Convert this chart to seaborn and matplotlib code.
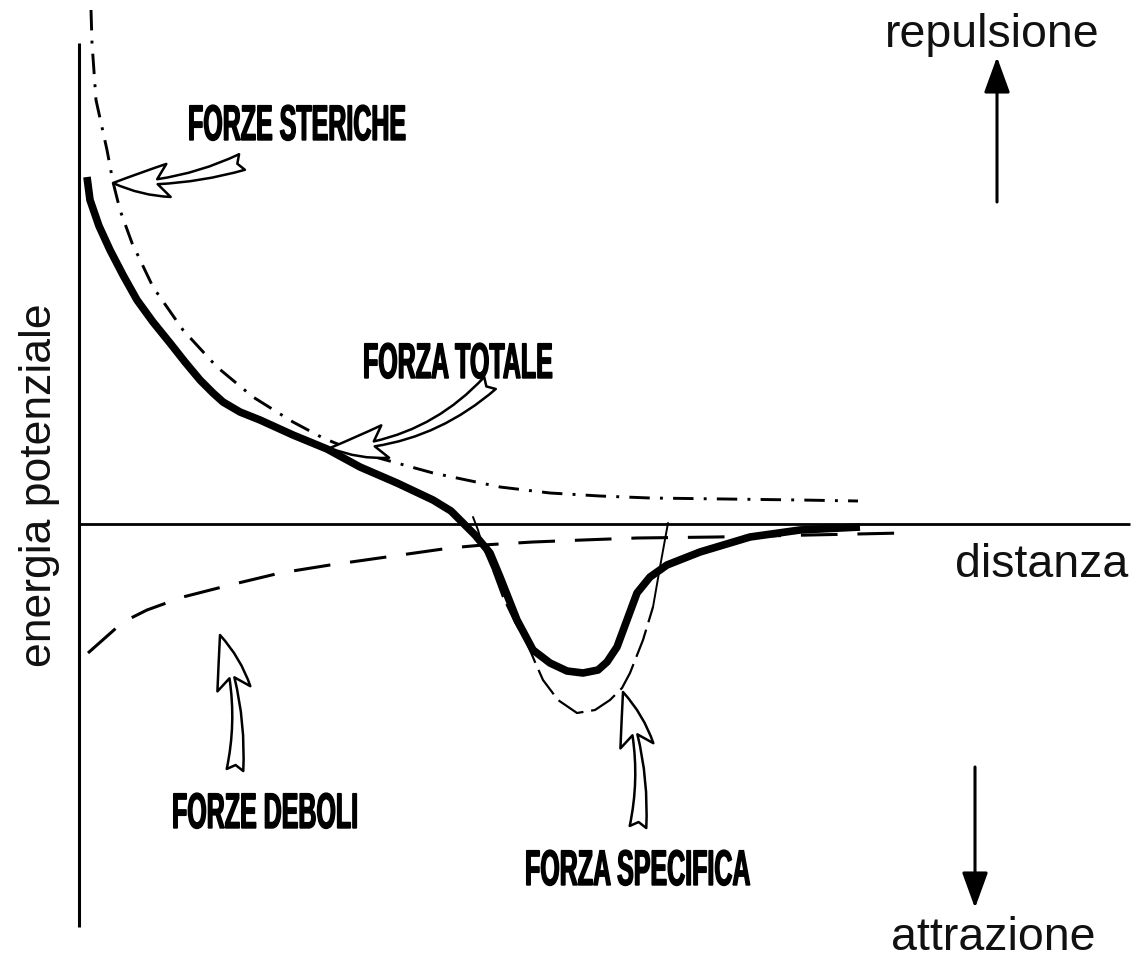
import numpy as np
import matplotlib
matplotlib.use('Agg')
import matplotlib.pyplot as plt
import matplotlib.patheffects as pe
from matplotlib.transforms import Affine2D
import seaborn as sns

# schematic curves: distance (arbitrary units) vs potential energy
steric_dist = [12, 13, 17, 28, 34, 41, 53, 74, 104, 138, 174, 214, 244, 278, 354, 421, 471, 521, 571, 721, 779]
steric_energy = [514, 481, 424, 374, 342, 314, 281, 237, 194, 157, 127, 102, 86, 72, 51, 37, 31, 28, 26, 24, 23]

total_dist = [8, 11, 20, 31, 44, 58, 74, 91, 106, 121, 134, 144, 161, 181, 214, 248, 281, 318, 354, 372, 384,
              396, 411, 421, 438, 454, 471, 488, 504, 519, 528, 538, 548, 558, 571, 588, 621, 671, 721, 781]
total_energy = [347, 324, 298, 274, 249, 224, 202, 181, 162, 144, 131, 122, 112, 104, 89, 75, 57, 41, 24, 13, 1,
                -11, -29, -53, -96, -126, -139, -147, -149, -146, -138, -123, -96, -69, -53, -41, -28, -13, -6, -3]

weak_dist = [9, 44, 68, 104, 151, 201, 251, 371, 404, 454, 504, 558, 638, 824]
weak_energy = [-129, -98, -86, -73, -61, -49, -41, -24, -21, -18, -16, -14, -13, -9]

specific_dist = [394, 399, 404, 414, 424, 436, 448, 456, 464, 479, 498, 516, 531, 543, 551, 564, 574, 581, 585, 589]
specific_energy = [7, -6, -23, -46, -73, -98, -119, -138, -156, -176, -189, -186, -176, -164, -149, -116, -83, -43, -21, 1]

labels = ['FORZE STERICHE', 'FORZA TOTALE', 'FORZE DEBOLI', 'FORZA SPECIFICA']


class Squeeze(pe.AbstractPathEffect):
    # narrow + stretch the glyphs around the text anchor (poster-like condensed look)
    def __init__(self, ax, x0, y0, sx=0.6, sy=1.2, lw=1.0):
        super().__init__()
        self.ax = ax
        self.x0 = x0
        self.y0 = y0
        self.sx = sx
        self.sy = sy
        self.lw = lw

    def draw_path(self, renderer, gc, tpath, affine, rgbFace=None):
        cx, cy = self.ax.transData.transform((self.x0, self.y0))
        tr = affine + Affine2D().translate(-cx, -cy).scale(self.sx, self.sy).translate(cx, cy)
        gc0 = renderer.new_gc()
        gc0.copy_properties(gc)
        gc0.set_linewidth(self.lw)
        gc0.set_foreground('black')
        gc0.set_joinstyle('miter')
        renderer.draw_path(gc0, tpath, tr, rgbFace)
        gc0.restore()


sns.set_theme(style='white')
plt.rcParams['font.family'] = ['Liberation Sans', 'DejaVu Sans']

fig = plt.figure(figsize=(11.38, 9.63), dpi=100)
ax = fig.add_axes([0, 0, 1, 1])
ax.set_xlim(-79, 1059)
ax.set_ylim(-439, 524)
ax.axis('off')

# axes of the diagram
ax.vlines(0, -403, 481, color='black', lw=2.2)
ax.hlines(0, 0, 1051, color='black', lw=2.0)

sns.lineplot(x=steric_dist, y=steric_energy, sort=False, estimator=None, color='black', lw=2.1,
             linestyle=(0, (7, 3.5, 1, 3.5)), ax=ax)
sns.lineplot(x=weak_dist, y=weak_energy, sort=False, estimator=None, color='black', lw=2.2,
             linestyle=(0, (12, 6.5)), ax=ax)
sns.lineplot(x=specific_dist[3:17], y=specific_energy[3:17], sort=False, estimator=None, color='black',
             lw=1.6, linestyle=(0, (13, 3.5)), ax=ax)
ax.plot(specific_dist[:4], specific_energy[:4], color='black', lw=1.4)
ax.plot(specific_dist[16:], specific_energy[16:], color='black', lw=1.4)
sns.lineplot(x=total_dist, y=total_energy, sort=False, estimator=None, color='black', lw=5.5,
             solid_capstyle='butt', solid_joinstyle='round', ax=ax)

# hollow pointer arrows
hollow = dict(arrowstyle='fancy,head_length=1.0,head_width=0.6,tail_width=0.3', fc='white', ec='black',
              lw=1.8, shrinkA=0, shrinkB=0, mutation_scale=40)
ax.annotate('', xy=(34, 341), xytext=(163, 362), arrowprops=dict(hollow, connectionstyle='arc3,rad=-0.1'))
ax.annotate('', xy=(251, 76), xytext=(411, 141), arrowprops=dict(hollow, connectionstyle='arc3,rad=-0.2'))
ax.annotate('', xy=(141, -111), xytext=(156, -246), arrowprops=dict(hollow, connectionstyle='arc3,rad=0.12'))
ax.annotate('', xy=(544, -168), xytext=(559, -303), arrowprops=dict(hollow, connectionstyle='arc3,rad=0.12'))

# bold labels
label_pos = [(109, 384), (284, 146), (93, -304), (446, -361)]
for txt, (lx, ly) in zip(labels, label_pos):
    ax.text(lx, ly, txt, fontsize=30, fontweight='bold', ha='left', va='baseline', color='black',
            path_effects=[Squeeze(ax, lx, ly)])

# direction arrows
ax.annotate('', xy=(918, 467), xytext=(918, 322),
            arrowprops=dict(arrowstyle='-|>,head_length=1.1,head_width=0.4', color='black', lw=2.2,
                            shrinkA=0, shrinkB=0, mutation_scale=20))
ax.annotate('', xy=(896, -384), xytext=(896, -243),
            arrowprops=dict(arrowstyle='-|>,head_length=1.1,head_width=0.4', color='black', lw=2.2,
                            shrinkA=0, shrinkB=0, mutation_scale=20))

ax.text(913, 477, 'repulsione', fontsize=33.5, ha='center', va='baseline', color='#111111')
ax.text(914, -426, 'attrazione', fontsize=33.5, ha='center', va='baseline', color='#111111')
ax.text(876, -53, 'distanza', fontsize=33.5, ha='left', va='baseline', color='#111111')
ax.text(-39, 39, 'energia potenziale', fontsize=32, rotation=90, ha='center', va='center', color='#111111')

fig.savefig('out.png', dpi=100)
